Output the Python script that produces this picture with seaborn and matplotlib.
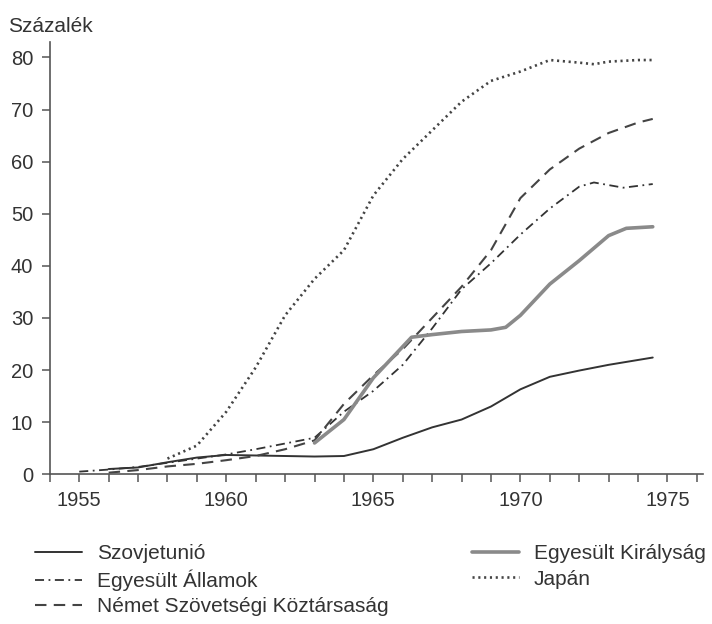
import matplotlib
matplotlib.use("Agg")
import matplotlib.pyplot as plt
from matplotlib.ticker import MultipleLocator
import seaborn as sns

# értékek
su_years = [1956, 1957, 1958, 1959, 1960, 1961, 1962, 1963, 1964, 1965, 1966, 1967, 1968, 1969, 1970, 1971, 1972, 1973, 1974.5]
su_vals = [1.0, 1.3, 2.3, 3.2, 3.7, 3.6, 3.5, 3.4, 3.5, 4.8, 7.0, 9.0, 10.5, 13.0, 16.3, 18.7, 19.9, 21.0, 22.4]

us_years = [1955, 1956, 1957, 1958, 1959, 1960, 1961, 1962, 1963, 1964, 1965, 1966, 1967, 1968, 1969, 1970, 1971, 1972, 1972.5, 1973.5, 1974.5]
us_vals = [0.5, 0.9, 1.4, 2.2, 3.0, 3.8, 4.8, 5.9, 7.0, 12.0, 16.0, 21.0, 28.0, 35.5, 40.5, 46.0, 51.0, 55.2, 56.0, 55.0, 55.7]

de_years = [1956, 1957, 1958, 1959, 1960, 1961, 1962, 1963, 1964, 1965, 1966, 1967, 1968, 1969, 1970, 1971, 1972, 1973, 1974, 1974.5]
de_vals = [0.3, 0.8, 1.5, 2.0, 2.7, 3.5, 4.8, 6.5, 13.5, 19.0, 24.0, 30.0, 36.0, 43.0, 53.0, 58.5, 62.5, 65.5, 67.5, 68.2]

uk_years = [1963, 1964, 1965, 1966, 1966.3, 1967, 1968, 1969, 1969.5, 1970, 1971, 1972, 1973, 1973.6, 1974.5]
uk_vals = [6.0, 10.5, 18.5, 24.5, 26.3, 26.8, 27.4, 27.7, 28.2, 30.5, 36.5, 41.0, 45.8, 47.2, 47.5]

jp_years = [1958, 1959, 1960, 1961, 1962, 1963, 1964, 1965, 1966, 1967, 1968, 1969, 1970, 1971, 1972, 1972.5, 1973, 1974, 1974.5]
jp_vals = [3.0, 5.5, 12.0, 20.5, 30.5, 37.5, 43.0, 53.5, 60.5, 66.0, 71.5, 75.5, 77.3, 79.5, 79.0, 78.7, 79.2, 79.5, 79.5]

names = ["Szovjetunió", "Egyesült Államok", "Német Szövetségi Köztársaság",
         "Egyesült Királyság", "Japán"]

sns.set_style("ticks")
plt.rcParams["font.family"] = ["Liberation Sans", "DejaVu Sans"]

fig = plt.figure(figsize=(7.12, 6.24), dpi=100)
ax = fig.add_axes([0.070, 0.240, 0.917, 0.693])

dark = "#333333"
sns.lineplot(x=su_years, y=su_vals, ax=ax, color=dark, lw=1.4, label=names[0])
sns.lineplot(x=us_years, y=us_vals, ax=ax, color=dark, lw=1.3,
             linestyle=(0, (5, 2.5, 1, 2.5)), label=names[1])
sns.lineplot(x=de_years, y=de_vals, ax=ax, color="#444444", lw=1.5,
             linestyle=(0, (5.5, 3.5)), label=names[2])
sns.lineplot(x=uk_years, y=uk_vals, ax=ax, color="#8a8a8a", lw=2.6, label=names[3])
sns.lineplot(x=jp_years, y=jp_vals, ax=ax, color="#444444", lw=1.9,
             linestyle=(0, (0.8, 1.4)), label=names[4])

ax.set_xlim(1954, 1976.2)
ax.set_ylim(0, 83)
ax.xaxis.set_major_locator(MultipleLocator(5))
ax.xaxis.set_minor_locator(MultipleLocator(1))
ax.yaxis.set_major_locator(MultipleLocator(10))
ax.set_xticks([1955, 1960, 1965, 1970, 1975])

for side in ["top", "right"]:
    ax.spines[side].set_visible(False)
for side in ["left", "bottom"]:
    ax.spines[side].set_color("#555555")
    ax.spines[side].set_linewidth(1.2)

ax.tick_params(axis="both", which="both", colors="#555555", width=1.1,
               labelsize=14.5, labelcolor="#333333")
ax.tick_params(axis="x", which="both", length=6, pad=6)
ax.tick_params(axis="y", length=6, pad=6)
ax.set_xlabel("")
ax.set_ylabel("")

fig.text(0.011, 0.972, "Százalék", fontsize=15, color="#333333", va="top")

handles, labels = ax.get_legend_handles_labels()
ax.get_legend().remove()
fig.legend(handles, labels, ncol=2, loc="upper left",
           bbox_to_anchor=(0.038, 0.141), frameon=False, fontsize=15,
           handlelength=2.25, handletextpad=0.72, columnspacing=4.0,
           labelspacing=0.3, borderaxespad=0, labelcolor="#333333")

fig.savefig("out.png", dpi=100, facecolor="white")
